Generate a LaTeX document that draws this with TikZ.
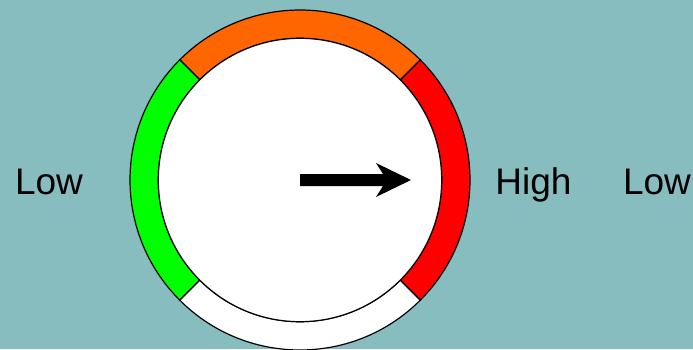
\documentclass[tikz,border=0pt]{standalone}
\usepackage{fontspec}
\setmainfont{Liberation Sans}
\usetikzlibrary{positioning,calc}

\definecolor{bgteal}{RGB}{136,189,192}
\definecolor{gaugeorange}{RGB}{255,102,0}
\definecolor{gaugered}{RGB}{255,0,0}
\definecolor{gaugegreen}{RGB}{0,255,0}

\begin{document}
\begin{tikzpicture}[
        x=1pt, y=1pt,
        segment/.style={draw=black, line width=1.2pt},
        dial/.style={draw=black, fill=white, line width=1.2pt},
        pointer/.style={fill=black},
        label/.style={anchor=base, font=\fontsize{37}{44}\selectfont}
    ]
    
    % Background
    \fill[bgteal] (0,0) rectangle (693,349);
    \useasboundingbox (0,0) rectangle (693,349);
    
    % Dial centre
    \coordinate (c) at (300,169);
    
    % Ring segments
    \foreach \a/\col in {-45/gaugered, 45/gaugeorange, 135/gaugegreen, 225/white}
        \draw[segment, fill=\col] ($(c)+(\a:170)$) arc[start angle=\a, delta angle=90, radius=170]
            -- ($(c)+(\a+90:141.7)$) arc[start angle=\a+90, delta angle=-90, radius=141.7] -- cycle;
    
    % Inner face
    \draw[dial] (c) circle[radius=141.7];
    
    % Pointer
    \fill[pointer] ($(c)+(0,6)$) -- ($(c)+(83,6)$) -- ($(c)+(76,17)$) -- ($(c)+(111,0)$)
        -- ($(c)+(76,-17)$) -- ($(c)+(83,-6)$) -- ($(c)+(0,-6)$) -- cycle;
    
    % Labels
    \node[label] (lowleft) at (49,155) {Low};
    \node[label] (high) at (533.5,155) {High};
    \node[label] (lowright) at (657,155) {Low};
    
    \end{tikzpicture}
\end{document}
